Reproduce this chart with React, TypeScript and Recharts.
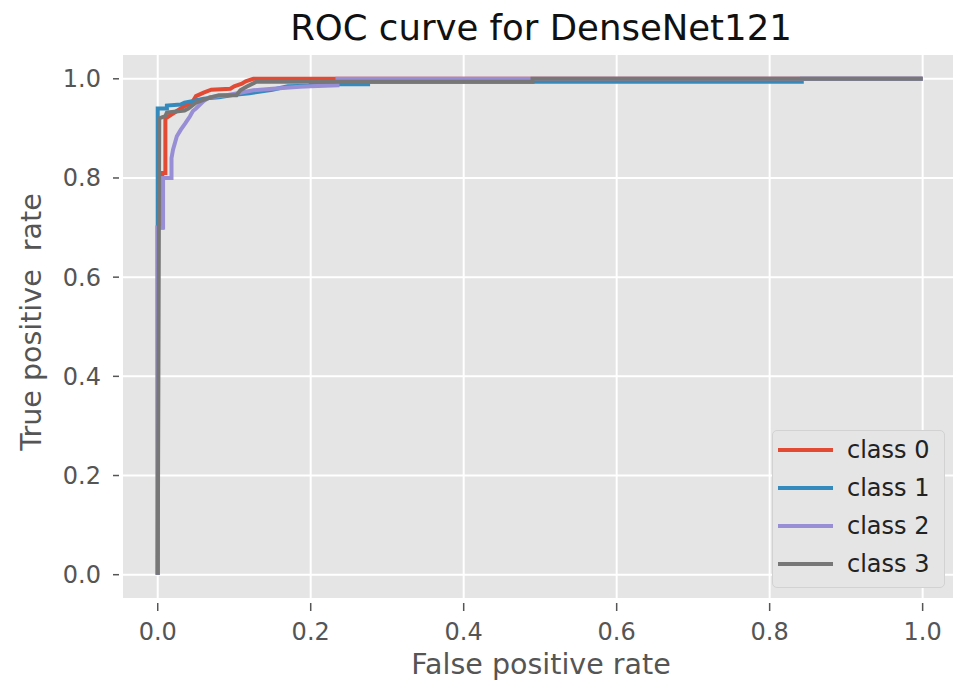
import React from "react";
import { LineChart, Line, XAxis, YAxis, CartesianGrid, Legend } from "recharts";

const FONT = "'DejaVu Sans', sans-serif";

const classNames = ["class 0", "class 1", "class 2", "class 3"];
const classColors = ["#E24A33", "#348ABD", "#988ED5", "#777777"];
const axisTicks = [0, 0.2, 0.4, 0.6, 0.8, 1.0];

// (false positive rate, true positive rate)
const fpr0 = [0, 0, 0.006, 0.006, 0.01, 0.01, 0.015, 0.025, 0.035, 0.045, 0.05, 0.06, 0.07, 0.095, 0.1, 0.11, 0.115, 0.125, 1];
const tpr0 = [0, 0.7, 0.7, 0.81, 0.81, 0.92, 0.925, 0.935, 0.945, 0.952, 0.965, 0.972, 0.978, 0.98, 0.985, 0.99, 0.995, 1, 1];

const fpr1 = [0, 0, 0.012, 0.012, 0.03, 0.035, 0.045, 0.06, 0.08, 0.1, 0.12, 0.15, 0.17, 0.2, 0.2, 0.275, 0.275, 0.842, 0.842, 1];
const tpr1 = [0, 0.94, 0.94, 0.946, 0.948, 0.952, 0.955, 0.96, 0.963, 0.968, 0.971, 0.978, 0.985, 0.986, 0.989, 0.989, 0.994, 0.994, 1, 1];

const fpr2 = [0, 0, 0.007, 0.007, 0.018, 0.018, 0.02, 0.025, 0.03, 0.036, 0.042, 0.046, 0.05, 0.06, 0.068, 0.09, 0.108, 0.125, 0.15, 0.186, 0.2, 0.235, 0.235, 1];
const tpr2 = [0, 0.7, 0.7, 0.8, 0.8, 0.84, 0.857, 0.884, 0.897, 0.91, 0.924, 0.935, 0.94, 0.955, 0.963, 0.967, 0.972, 0.977, 0.98, 0.984, 0.985, 0.987, 1, 1];

const fpr3 = [0, 0.002, 0.01, 0.012, 0.035, 0.04, 0.05, 0.068, 0.08, 0.103, 0.108, 0.116, 0.129, 0.49, 0.49, 1];
const tpr3 = [0, 0.92, 0.925, 0.932, 0.936, 0.94, 0.952, 0.962, 0.967, 0.967, 0.977, 0.984, 0.994, 0.994, 1, 1];

const toPoints = (xs: number[], ys: number[]) => xs.map((x, i) => ({ x, y: ys[i] }));
const series = [
  toPoints(fpr0, tpr0),
  toPoints(fpr1, tpr1),
  toPoints(fpr2, tpr2),
  toPoints(fpr3, tpr3),
];

const YTick = (props: any) => {
  const { x, y, payload } = props;
  return (
    <g>
      <line x1={x - 9} x2={x - 3} y1={y} y2={y} stroke="#555555" strokeWidth={1.5} />
      <text x={x - 21} y={y} dy={8.5} textAnchor="end" fontSize={24} fill="#555555" fontFamily={FONT}>
        {Number(payload.value).toFixed(1)}
      </text>
    </g>
  );
};

const XTick = (props: any) => {
  const { x, y, payload } = props;
  return (
    <g>
      <line x1={x} x2={x} y1={y + 4} y2={y + 12} stroke="#555555" strokeWidth={1.5} />
      <text x={x} y={y + 41} textAnchor="middle" fontSize={24} fill="#555555" fontFamily={FONT}>
        {Number(payload.value).toFixed(1)}
      </text>
    </g>
  );
};

const renderLegend = (props: any) => (
  <div
    style={{
      width: 173,
      height: 158,
      boxSizing: "border-box",
      background: "#E5E5E5",
      border: "1px solid #D2D2D2",
      borderRadius: 5,
      fontFamily: FONT,
      fontSize: 24,
      color: "#222",
    }}
  >
    {(props.payload || []).map((entry: any, i: number) => (
      <div key={i} style={{ display: "flex", alignItems: "center", height: 38 }}>
        <div style={{ marginLeft: 5, width: 55, height: 4, background: entry.color }} />
        <span style={{ marginLeft: 14, lineHeight: "38px" }}>{entry.value}</span>
      </div>
    ))}
  </div>
);

export default function App() {
  return (
    <div style={{ position: "absolute", left: 0, top: 0, width: 954, height: 690, background: "#fff", overflow: "hidden" }}>
      <LineChart width={954} height={690} margin={{ top: 54, right: 0, bottom: 0, left: 0 }}>
        <CartesianGrid fill="#E5E5E5" fillOpacity={1} stroke="#FFFFFF" strokeWidth={2} />
        <XAxis
          dataKey="x"
          type="number"
          domain={[-0.0467, 1.041]}
          ticks={axisTicks}
          interval={0}
          allowDataOverflow
          height={91}
          axisLine={false}
          tickLine={false}
          tickSize={0}
          tickMargin={0}
          tick={<XTick />}
        />
        <YAxis
          type="number"
          domain={[-0.049, 1.05]}
          ticks={axisTicks}
          interval={0}
          allowDataOverflow
          width={122}
          axisLine={false}
          tickLine={false}
          tickSize={0}
          tickMargin={0}
          tick={<YTick />}
        />
        {series.map((pts, i) => (
          <Line
            key={classNames[i]}
            data={pts}
            dataKey="y"
            name={classNames[i]}
            type="linear"
            stroke={classColors[i]}
            strokeWidth={4}
            dot={false}
            activeDot={false}
            isAnimationActive={false}
          />
        ))}
        <Legend
          layout="horizontal"
          verticalAlign="middle"
          align="center"
          content={renderLegend}
          wrapperStyle={{ left: 772, top: 430, width: 173, height: 158 }}
        />
      </LineChart>
      <div
        style={{
          position: "absolute",
          left: 0,
          width: 1082,
          top: 10,
          textAlign: "center",
          fontFamily: FONT,
          fontSize: 35.5,
          lineHeight: "36px",
          color: "#111",
        }}
      >
        ROC curve for DenseNet121
      </div>
      <div
        style={{
          position: "absolute",
          left: 0,
          width: 1082,
          top: 650,
          textAlign: "center",
          fontFamily: FONT,
          fontSize: 28.5,
          lineHeight: "30px",
          color: "#555555",
        }}
      >
        False positive rate
      </div>
      <div
        style={{
          position: "absolute",
          left: 32 - 200,
          top: 322 - 15,
          width: 400,
          height: 30,
          transform: "rotate(-90deg)",
          textAlign: "center",
          fontFamily: FONT,
          fontSize: 28.5,
          lineHeight: "30px",
          color: "#555555",
          whiteSpace: "pre",
        }}
      >
        {"True positive  rate"}
      </div>
    </div>
  );
}
